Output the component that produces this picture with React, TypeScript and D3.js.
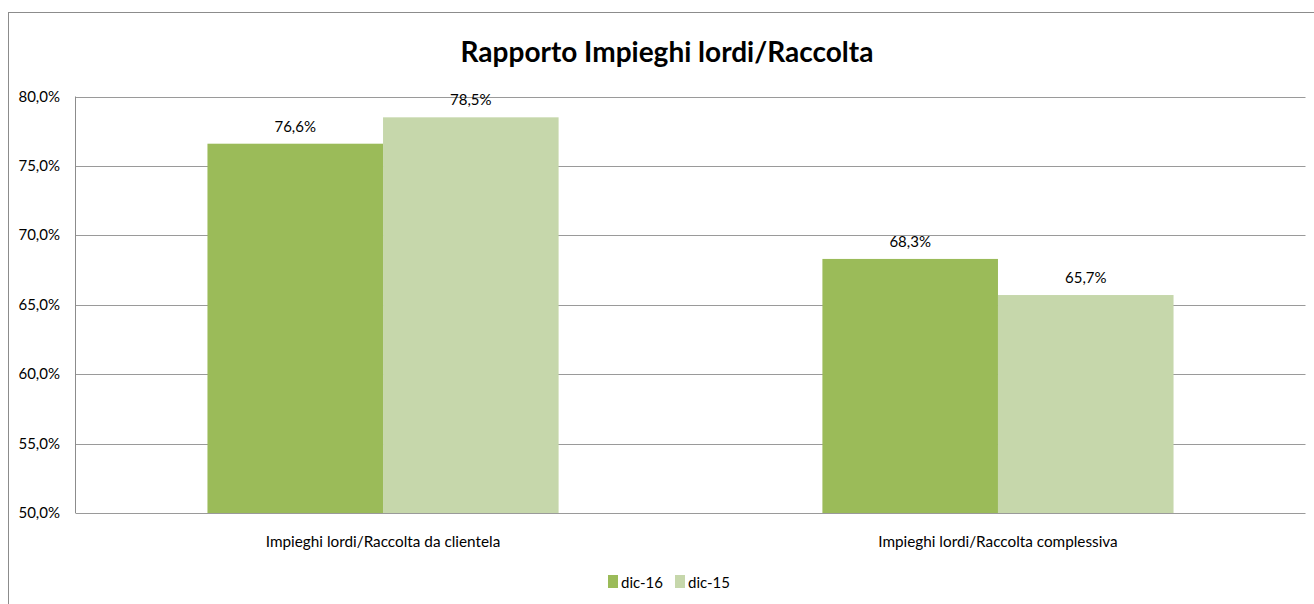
import React from "react";
import * as d3 from "d3";

const categories = [
  "Impieghi lordi/Raccolta da clientela",
  "Impieghi lordi/Raccolta complessiva",
];
const seriesNames = ["dic-16", "dic-15"];
const dic16 = [0.766, 0.683];
const dic15 = [0.785, 0.657];
const yTicks = [0.5, 0.55, 0.6, 0.65, 0.7, 0.75, 0.8];
const colors = ["#9BBB59", "#C6D7AB"];

const W = 1314;
const H = 604;
const font = "'Liberation Sans Narrow', 'Arial Narrow', Lato, sans-serif";

const fmt = (v: number) => (v * 100).toFixed(1).replace(".", ",") + "%";

export default function App() {
  const plot = { left: 75.5, right: 1305.5, top: 96.5, bottom: 513 };

  const x = d3
    .scaleBand<string>()
    .domain(categories)
    .range([plot.left, plot.right])
    .paddingInner(0.429)
    .paddingOuter(0.2146);
  const xs = d3
    .scaleBand<string>()
    .domain(seriesNames)
    .range([0, x.bandwidth()]);
  const y = d3.scaleLinear().domain([0.5, 0.8]).range([plot.bottom, plot.top]);

  const series = [dic16, dic15];

  return (
    <svg
      width={W}
      height={H}
      style={{ position: "absolute", left: 0, top: 0, display: "block", background: "#fff" }}
      fontFamily={font}
    >
      {/* outer chart frame */}
      <rect x={8.5} y={12.5} width={1320} height={620} fill="#fff" stroke="#8c8c8c" strokeWidth={1} />

      <text x={667} y={62} textAnchor="middle" fontSize={28} fontWeight="bold" fill="#000">
        Rapporto Impieghi lordi/Raccolta
      </text>

      {/* gridlines */}
      {yTicks.map((t) => (
        <g key={t}>
          <line
            x1={plot.left}
            x2={plot.right}
            y1={Math.round(y(t)) + 0.5}
            y2={Math.round(y(t)) + 0.5}
            stroke="#9a9a9a"
            strokeWidth={1}
          />
          <text x={60} y={y(t) + 5} textAnchor="end" fontSize={15} fill="#000">
            {fmt(t)}
          </text>
        </g>
      ))}
      <line x1={plot.left} x2={plot.left} y1={plot.top} y2={plot.bottom} stroke="#8c8c8c" />

      {/* bars */}
      {categories.map((c, i) => (
        <g key={c}>
          {series.map((s, j) => {
            const bx = x(c)! + xs(seriesNames[j])!;
            const by = y(s[i]);
            return (
              <g key={j}>
                <rect
                  x={bx}
                  y={by}
                  width={xs.bandwidth()}
                  height={plot.bottom - by}
                  fill={colors[j]}
                />
                <text
                  x={bx + xs.bandwidth() / 2}
                  y={by - 12}
                  textAnchor="middle"
                  fontSize={15}
                  fill="#000"
                >
                  {fmt(s[i])}
                </text>
              </g>
            );
          })}
          <text
            x={x(c)! + x.bandwidth() / 2}
            y={547}
            textAnchor="middle"
            fontSize={15.3}
            fill="#000"
          >
            {c}
          </text>
        </g>
      ))}

      {/* legend */}
      {seriesNames.map((n, j) => {
        const lx = 608 + j * 67;
        return (
          <g key={n}>
            <rect x={lx} y={575} width={10} height={13} fill={colors[j]} />
            <text x={lx + 13} y={588} fontSize={15} fill="#000">
              {n}
            </text>
          </g>
        );
      })}
    </svg>
  );
}
